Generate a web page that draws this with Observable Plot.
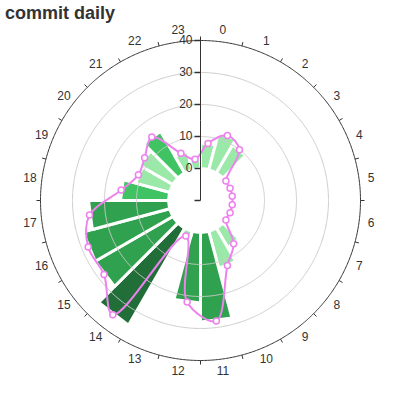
<!DOCTYPE html>
<html>
<head>
<meta charset="utf-8">
<script src="https://cdn.jsdelivr.net/npm/d3@7"></script>
<script src="https://cdn.jsdelivr.net/npm/@observablehq/plot@0.6"></script>
<style>
  body { margin: 0; background: #fff; font-family: "Liberation Sans", Arial, sans-serif; }
  #wrap { position: relative; width: 400px; height: 400px; }
  #wrap svg { display: block; }
  #title { position: absolute; left: 5px; top: 3px; font-size: 18px; font-weight: bold; color: #333; }
</style>
</head>
<body>
<div id="wrap"></div>
<script>
// ---- data ----
const hours = d3.range(24);
const commits = [8, 12, 10, 0, 0, 0, 0, 0, 0, 7, 12, 28, 22, 2, 35, 28, 28, 25, 15, 11, 12, 15, 6, 3];
const radialTicks = [-10, 0, 10, 20, 30, 40];
const radialLabels = [0, 10, 20, 30, 40];
const gridRings = [10, 20, 30];
const colorThresholds = [14, 20, 30];
const colorRange = ["#9be9a8", "#40c463", "#30a14e", "#216e39"];

// ---- polar set-up (value -> colatitude, hour angle -> longitude) ----
const rMin = -10, rMax = 40, labelR = 43.75, domainR = 46.25;
const slot = 360 / 24;
const lon = (theta) => 180 - theta;
const lat = (v) => 90 - (v - rMin);
const circle = (v) => d3.geoCircle().center([0, 90]).radius(v - rMin).precision(0.5)();

// bar polygons (table built from the arrays)
const bars = hours.flatMap((h, i) => {
  const a0 = h * slot, a1 = (h + 1) * slot, v = commits[i];
  return [[a0, 0], [a0, v], [a1, v], [a1, 0]].map(([a, r]) => ({hour: h, value: v, a, r}));
});
const points = hours.map((h, i) => ({hour: h, value: commits[i]}));

const tickSym = {draw(ctx) { ctx.moveTo(-6, 0); ctx.lineTo(0, 0); }};

const chart = Plot.plot({
  width: 400,
  height: 400,
  margin: 20,
  projection: {type: "azimuthal-equidistant", rotate: [0, -90], domain: circle(domainR)},
  color: {type: "threshold", domain: colorThresholds, range: colorRange},
  style: {fontFamily: "'Liberation Sans', Arial, sans-serif", fontSize: "12px", background: "white"},
  marks: [
    Plot.line(bars, {
      x: (d) => lon(d.a), y: (d) => lat(d.r), z: "hour",
      fill: "value", stroke: "white", strokeWidth: 3, curve: "linear-closed"
    }),
    Plot.geo(gridRings, {geometry: circle, stroke: "#ccc", strokeWidth: 1, fill: "none"}),
    Plot.line(points, {
      x: (d) => lon(d.hour * slot + slot / 2), y: (d) => lat(d.value),
      curve: "catmull-rom-closed", stroke: "violet", strokeWidth: 2
    }),
    Plot.dot(points, {
      x: (d) => lon(d.hour * slot + slot / 2), y: (d) => lat(d.value),
      r: 3, fill: "white", stroke: "violet", strokeWidth: 1.5
    }),
    Plot.geo([rMax], {geometry: circle, stroke: "#333", strokeWidth: 1, fill: "none"}),
    Plot.link(hours, {
      x1: (h) => lon(h * slot), y1: lat(rMax),
      x2: (h) => lon(h * slot), y2: lat(rMax + 1.25),
      stroke: "#333"
    }),
    Plot.link([0], {x1: lon(0), y1: lat(rMin), x2: lon(0), y2: lat(rMax), stroke: "#333"}),
    Plot.dot(radialTicks, {x: lon(0), y: lat, symbol: tickSym, stroke: "#333", fill: "none"}),
    Plot.text(radialLabels, {
      x: lon(0), y: lat, text: (d) => String(d), textAnchor: "end", dx: -8, fill: "#333"
    }),
    Plot.text(hours, {
      x: (h) => lon(h * slot + slot / 2), y: lat(labelR), text: (h) => String(h), fill: "#333"
    })
  ]
});

const wrap = document.getElementById("wrap");
wrap.appendChild(chart);
const title = document.createElement("div");
title.id = "title";
title.textContent = "commit daily";
wrap.appendChild(title);
</script>
</body>
</html>
